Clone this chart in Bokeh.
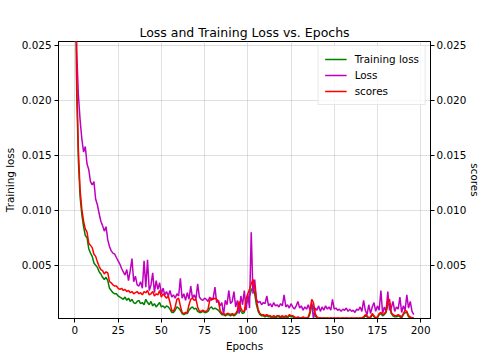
import math
from bokeh.plotting import figure
from bokeh.models import LinearAxis, FixedTicker, PrintfTickFormatter, Legend, LegendItem, Range1d, Title
from bokeh.embed import file_html
from bokeh.resources import INLINE

title_text = "Loss and Training Loss vs. Epochs"
x_label = "Epochs"
y_label = "Training loss"
y2_label = "scores"
x_ticks = [0, 25, 50, 75, 100, 125, 150, 175, 200]
y_ticks = [0.005, 0.010, 0.015, 0.020, 0.025]

training_loss = [
    0.045, 0.021, 0.0145, 0.0112, 0.0096, 0.0085, 0.0077, 0.0075, 0.0065, 0.0061,
    0.0058, 0.0052, 0.0050, 0.0048, 0.0044, 0.0042, 0.0039, 0.0037, 0.0039, 0.0036,
    0.0029, 0.0027, 0.0025, 0.0024, 0.0024, 0.0022, 0.0021, 0.0020, 0.0019, 0.0021,
    0.0018, 0.0020, 0.0017, 0.0019, 0.0016, 0.0015, 0.0017, 0.0018, 0.0015, 0.0016,
    0.0014, 0.0019, 0.0016, 0.0014, 0.0017, 0.0013, 0.0015, 0.0012, 0.0014, 0.0016,
    0.0012, 0.0013, 0.0011, 0.0013, 0.0012, 0.0010, 0.0007, 0.0007, 0.0009, 0.0012,
    0.0011, 0.0009, 0.0006, 0.0005, 0.0006, 0.0006, 0.0009, 0.0011, 0.0012, 0.0010,
    0.0011, 0.0008, 0.0007, 0.0007, 0.0008, 0.0007, 0.0007, 0.0008, 0.0011, 0.0012,
    0.0010, 0.0011, 0.0010, 0.0009, 0.0007, 0.0005, 0.0005, 0.0004, 0.0005, 0.0005,
    0.0004, 0.0005, 0.0004, 0.0005, 0.0007, 0.0012, 0.0008, 0.0006, 0.0007, 0.0014,
    0.0019, 0.0022, 0.0027, 0.0030, 0.0024, 0.0014, 0.0008, 0.0005, 0.0004, 0.0004,
    0.0003, 0.0004, 0.0003, 0.0003, 0.0002, 0.0003, 0.0002, 0.0003, 0.0003, 0.0002,
    0.0003, 0.0002, 0.0003, 0.0002, 0.0004, 0.0003, 0.0003, 0.0002, 0.0002, 0.0002,
    0.0002, 0.0002, 0.0002, 0.0002, 0.0002, 0.0002, 0.0006, 0.0014, 0.0012, 0.0004,
    0.0002, 0.0002, 0.0002, 0.0001, 0.0002, 0.0001, 0.0002, 0.0001, 0.0002, 0.0001,
    0.0002, 0.0001, 0.0002, 0.0001, 0.0001, 0.0002, 0.0001, 0.0002, 0.0001, 0.0001,
    0.0002, 0.0001, 0.0001, 0.0002, 0.0001, 0.0002, 0.0002, 0.0002, 0.0004, 0.0003,
    0.0002, 0.0002, 0.0005, 0.0003, 0.0002, 0.0002, 0.0005, 0.0006, 0.0004, 0.0005,
    0.0007, 0.0014, 0.0015, 0.0006, 0.0004, 0.0003, 0.0003, 0.0004, 0.0003, 0.0002,
    0.0005, 0.0007, 0.0007, 0.0003, 0.0002, 0.0002, 0.0002,
]

loss = [
    0.045, 0.0245, 0.0205, 0.0182, 0.0165, 0.0153, 0.0158, 0.0142, 0.0137, 0.0126,
    0.0123, 0.0126, 0.0110, 0.0105, 0.0097, 0.0090, 0.0086, 0.0081, 0.0085, 0.0073,
    0.0067, 0.0063, 0.0061, 0.0060, 0.0057, 0.0054, 0.0051, 0.0047, 0.0044, 0.0041,
    0.0046, 0.0036, 0.0045, 0.0056, 0.0035, 0.0040, 0.0032, 0.0031, 0.0035, 0.0029,
    0.0054, 0.0030, 0.0055, 0.0027, 0.0032, 0.0043, 0.0025, 0.0036, 0.0028, 0.0034,
    0.0024, 0.0029, 0.0023, 0.0026, 0.0022, 0.0027, 0.0021, 0.0023, 0.0020, 0.0024,
    0.0022, 0.0038, 0.0020, 0.0024, 0.0018, 0.0025, 0.0019, 0.0031, 0.0020, 0.0023,
    0.0019, 0.0033, 0.0021, 0.0019, 0.0018, 0.0020, 0.0019, 0.0017, 0.0021, 0.0018,
    0.0020, 0.0030, 0.0016, 0.0018, 0.0013, 0.0016, 0.0005, 0.0018, 0.0014, 0.0027,
    0.0015, 0.0017, 0.0026, 0.0012, 0.0018, 0.0006, 0.0022, 0.0014, 0.0027, 0.0009,
    0.0024, 0.0011, 0.0080, 0.0024, 0.0037, 0.0019, 0.0016, 0.0017, 0.0014, 0.0016,
    0.0015, 0.0022, 0.0013, 0.0015, 0.0012, 0.0016, 0.0013, 0.0014, 0.0012, 0.0015,
    0.0013, 0.0023, 0.0012, 0.0014, 0.0011, 0.0015, 0.0012, 0.0010, 0.0013, 0.0017,
    0.0011, 0.0013, 0.0009, 0.0012, 0.0010, 0.0014, 0.0009, 0.0016, 0.0001, 0.0011,
    0.0009, 0.0013, 0.0008, 0.0012, 0.0009, 0.0013, 0.0010, 0.0012, 0.0009, 0.0019,
    0.0010, 0.0011, 0.0009, 0.0010, 0.0008, 0.0010, 0.0009, 0.0011, 0.0008, 0.0010,
    0.0008, 0.0009, 0.0007, 0.0010, 0.0009, 0.0012, 0.0008, 0.0018, 0.0009, 0.0005,
    0.0014, 0.0006, 0.0012, 0.0016, 0.0008, 0.0013, 0.0009, 0.0027, 0.0006, 0.0012,
    0.0008, 0.0026, 0.0009, 0.0011, 0.0017, 0.0008, 0.0012, 0.0010, 0.0021, 0.0007,
    0.0013, 0.0009, 0.0023, 0.0011, 0.0017, 0.0008, 0.0005,
]

scores = [
    0.040, 0.022, 0.0155, 0.0118, 0.0101, 0.0090, 0.0083, 0.0080, 0.0070, 0.0068,
    0.0066, 0.0060, 0.0058, 0.0053, 0.0049, 0.0046, 0.0045, 0.0042, 0.0044, 0.0043,
    0.0035, 0.0034, 0.0032, 0.0031, 0.0031, 0.0029, 0.0028, 0.0029, 0.0027, 0.0028,
    0.0026, 0.0027, 0.0025, 0.0026, 0.0024, 0.0025, 0.0026, 0.0024, 0.0025, 0.0023,
    0.0026, 0.0025, 0.0027, 0.0023, 0.0024, 0.0026, 0.0022, 0.0024, 0.0023, 0.0027,
    0.0021, 0.0024, 0.0022, 0.0020, 0.0022, 0.0016, 0.0009, 0.0008, 0.0012, 0.0019,
    0.0020, 0.0013, 0.0007, 0.0006, 0.0007, 0.0007, 0.0014, 0.0019, 0.0020, 0.0018,
    0.0019, 0.0012, 0.0008, 0.0008, 0.0009, 0.0008, 0.0008, 0.0010, 0.0018, 0.0020,
    0.0019, 0.0020, 0.0019, 0.0017, 0.0009, 0.0006, 0.0006, 0.0005, 0.0006, 0.0006,
    0.0005, 0.0006, 0.0005, 0.0006, 0.0009, 0.0017, 0.0011, 0.0008, 0.0008, 0.0019,
    0.0024, 0.0028, 0.0033, 0.0037, 0.0030, 0.0018, 0.0010, 0.0006, 0.0005, 0.0005,
    0.0004, 0.0005, 0.0004, 0.0004, 0.0003, 0.0004, 0.0003, 0.0004, 0.0004, 0.0003,
    0.0004, 0.0003, 0.0004, 0.0003, 0.0005, 0.0004, 0.0004, 0.0003, 0.0002, 0.0003,
    0.0002, 0.0002, 0.0003, 0.0002, 0.0002, 0.0003, 0.0008, 0.0019, 0.0016, 0.0006,
    0.0003, 0.0002, 0.0002, 0.0002, 0.0002, 0.0002, 0.0002, 0.0002, 0.0002, 0.0002,
    0.0002, 0.0002, 0.0002, 0.0002, 0.0002, 0.0002, 0.0002, 0.0002, 0.0002, 0.0002,
    0.0002, 0.0002, 0.0002, 0.0002, 0.0002, 0.0002, 0.0002, 0.0003, 0.0005, 0.0004,
    0.0002, 0.0003, 0.0006, 0.0004, 0.0002, 0.0003, 0.0006, 0.0007, 0.0005, 0.0006,
    0.0008, 0.0018, 0.0019, 0.0007, 0.0005, 0.0004, 0.0004, 0.0005, 0.0004, 0.0003,
    0.0006, 0.0009, 0.0008, 0.0004, 0.0003, 0.0002, 0.0002,
]

FONT = "DejaVu Sans"

p = figure(frame_width=372, frame_height=277, output_backend="svg", toolbar_location=None,
           title=None,
           x_range=Range1d(-9.5, 205.7), y_range=Range1d(0.00015, 0.02535),
           min_border_left=52, min_border_right=0, min_border_top=0, min_border_bottom=0)
p.extra_y_ranges = {"scores": Range1d(0.00015, 0.02535)}

main_title = Title(text=title_text, align="center", text_font=FONT, text_font_size="12.5px",
                   text_font_style="normal", text_color="#000000", standoff=4)
p.add_layout(main_title, "above")
spacer = Title(text=" ", text_font=FONT, text_font_size="15px", standoff=0)
p.add_layout(spacer, "above")

p.outline_line_color = "#000000"
p.outline_line_width = 1
p.background_fill_color = "white"
p.border_fill_color = "white"

p.xaxis.axis_label = x_label
p.yaxis.axis_label = y_label
p.xaxis.ticker = FixedTicker(ticks=x_ticks)
p.yaxis.ticker = FixedTicker(ticks=y_ticks)
p.yaxis.formatter = PrintfTickFormatter(format="%.3f")

ax2 = LinearAxis(y_range_name="scores", axis_label=y2_label,
                 ticker=FixedTicker(ticks=y_ticks), formatter=PrintfTickFormatter(format="%.3f"))
p.add_layout(ax2, "right")

for ax in [p.xaxis[0], p.yaxis[0], ax2]:
    ax.axis_line_color = "#000000"
    ax.major_tick_line_color = "#000000"
    ax.minor_tick_line_color = None
    ax.major_tick_out = 4
    ax.major_tick_in = 0
    ax.major_label_text_font = FONT
    ax.major_label_text_font_size = "10.4px"
    ax.major_label_text_color = "#000000"
    ax.axis_label_text_font = FONT
    ax.axis_label_text_font_size = "10.4px"
    ax.axis_label_text_font_style = "normal"
    ax.axis_label_text_color = "#000000"
    ax.major_label_standoff = 3
    ax.axis_label_standoff = 3
ax2.major_label_standoff = 2
ax2.axis_label_standoff = 0

p.grid.grid_line_color = "#b0b0b0"
p.grid.grid_line_dash = "1 1"
p.grid.grid_line_width = 0.8
p.xgrid.ticker = FixedTicker(ticks=x_ticks)
p.ygrid.ticker = FixedTicker(ticks=y_ticks)

xs_t = list(range(len(training_loss)))
xs_l = list(range(len(loss)))
xs_s = list(range(len(scores)))

r1 = p.line(xs_t, training_loss, line_color="#008000", line_width=1.5)
r2 = p.line(xs_l, loss, line_color="#bf00bf", line_width=1.5)
r3 = p.line(xs_s, scores, line_color="#ff0000", line_width=1.5, y_range_name="scores")

legend = Legend(items=[LegendItem(label="Training loss", renderers=[r1]),
                       LegendItem(label="Loss", renderers=[r2]),
                       LegendItem(label="scores", renderers=[r3])],
                location="top_right")
legend.label_text_font = FONT
legend.label_text_font_size = "10.4px"
legend.label_text_color = "#000000"
legend.glyph_width = 22
legend.glyph_height = 14
legend.label_height = 14
legend.label_standoff = 8
legend.spacing = 2
legend.padding = 6
legend.margin = 4
legend.border_line_color = "#d0d0d0"
legend.border_line_width = 1
legend.background_fill_alpha = 0.8
p.add_layout(legend)

open("out.html", "w").write(file_html(p, INLINE))
